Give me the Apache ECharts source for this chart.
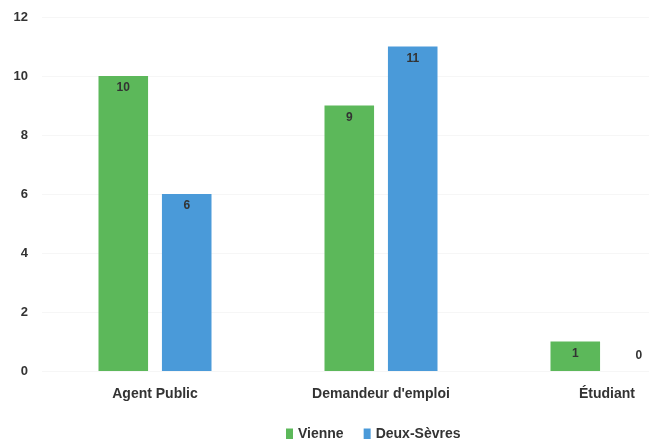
<!DOCTYPE html>
<html><head><meta charset="utf-8">
<script src="https://cdn.jsdelivr.net/npm/echarts@6/dist/echarts.min.js"></script>
<style>html,body{margin:0;padding:0;background:#fff;overflow:hidden;width:649px;height:439px}#c{width:720px;height:439px}</style>
</head><body><div id="c"></div>
<script>
const categories = ["Agent Public", "Demandeur d'emploi", "Étudiant"];
const vienne = [10, 9, 1];
const deuxSevres = [6, 11, 0];
const yTicks = [0, 2, 4, 6, 8, 10, 12];

const font = '"Liberation Sans", Arial, sans-serif';
const chart = echarts.init(document.getElementById('c'), null, {renderer: 'canvas'});
const lbl = {show: true, position: 'insideTop', distance: 6, color: '#333', fontSize: 12, fontFamily: font, fontWeight: 'bold'};
chart.setOption({
  animation: false,
  backgroundColor: '#fff',
  textStyle: {fontFamily: font},
  grid: {left: 42, top: 17, width: 678, height: 354, containLabel: false},
  legend: {
    top: 422, left: 281, itemWidth: 7, itemHeight: 11, itemGap: 20,
    icon: 'rect',
    textStyle: {color: '#333', fontSize: 14, fontFamily: font, fontWeight: 'bold'},
    data: ['Vienne', 'Deux-Sèvres']
  },
  xAxis: {
    type: 'category', data: categories,
    axisLine: {show: false}, axisTick: {show: false},
    axisLabel: {color: '#333', fontSize: 14, margin: 16, fontFamily: font, fontWeight: 'bold'}
  },
  yAxis: {
    type: 'value', min: yTicks[0], max: yTicks[yTicks.length - 1], interval: 2,
    axisLine: {show: false}, axisTick: {show: false},
    axisLabel: {color: '#333', fontSize: 13, margin: 14, fontFamily: font, fontWeight: 'bold'},
    splitLine: {show: true, lineStyle: {color: '#f6f6f6', width: 1}}
  },
  series: [
    {name: 'Vienne', type: 'bar', data: vienne, barGap: '28%', barCategoryGap: '50%',
     itemStyle: {color: '#5cb85a'}, label: lbl},
    {name: 'Deux-Sèvres', type: 'bar', data: deuxSevres.map(v => v === 0 ? {value: v, label: {position: 'top', distance: 9}} : v),
     itemStyle: {color: '#4a9ad9'}, label: lbl}
  ]
});
</script></body></html>
